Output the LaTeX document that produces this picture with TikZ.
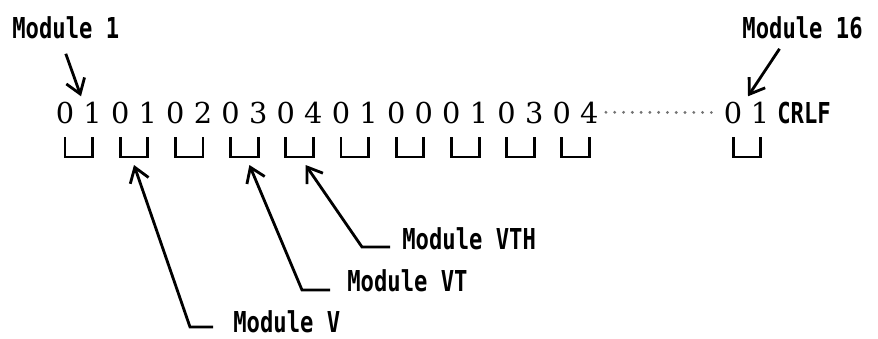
\documentclass[tikz,border=0pt]{standalone}
\usepackage{fontspec}
\usetikzlibrary{arrows.meta}
\newfontfamily\modfont[FakeStretch=0.77]{DejaVu Sans Mono}
\newfontfamily\digfont{DejaVu Serif}

\begin{document}
\begin{tikzpicture}[x=0.02cm,y=-0.02cm,
  digit/.style={inner sep=0pt,anchor=base,font=\digfont\fontsize{16.4}{18}\selectfont},
  modlabel/.style={inner sep=0pt,anchor=base west,font=\modfont\bfseries\fontsize{16.4}{18}\selectfont},
  pointer/.style={line width=1.6pt,-{Straight Barb[length=8pt,width=11pt,line width=1.6pt]}},
  slot/.style={line width=1.7pt},
  dotline/.style={line width=1.8pt,line cap=round,dash pattern=on 0pt off 5pt,black!55}]
  \useasboundingbox (0,0) rectangle (878,338);
  % the record
  \foreach \v [count=\i] in {0,1,0,1,0,2,0,3,0,4,0,1,0,0,0,1,0,3,0,4}
    \node[digit] (d\i) at ({65+27.6*(\i-1)},123) {\v};
  \node[digit] (d21) at (733,123) {0};
  \node[digit] (d22) at (760,123) {1};
  \node[modlabel] (crlf) at (777,123) {CRLF};
  \draw[dotline] ([xshift=4pt]d20.east) -- ([xshift=-4pt]d21.west);
  % one slot per module
  \foreach \l/\r [count=\k] in {1/2,3/4,5/6,7/8,9/10,11/12,13/14,15/16,17/18,19/20,21/22}
    \draw[slot] (d\l |- 0,137) -- (d\l |- 0,157) -- coordinate (b\k) (d\r |- 0,157) -- (d\r |- 0,137);
  % labels
  \node[modlabel] (m1) at (12,38) {Module 1};
  \node[modlabel,anchor=base east] (m16) at (863,38) {Module 16};
  \node[modlabel] (lV) at (233,332) {Module V};
  \node[modlabel] (lVT) at (347,291) {Module VT};
  \node[modlabel] (lVTH) at (402,249) {Module VTH};
  \draw[pointer] ([yshift=-0.3cm]m1.south) -- ([shift={(16,-5)}]d1.north);
  \draw[pointer] ([shift={(-23,10)}]m16.south) -- ([shift={(15,-5)}]d21.north);
  \draw[pointer] (lV.base west) ++(-20,-5) -- ++(-23,0) -- ([shift={(0,8)}]b2);
  \draw[pointer] (lVT.base west) ++(-17,-1) -- ++(-28,0) -- ([shift={(5,8)}]b4);
  \draw[pointer] (lVTH.base west) ++(-12,-2) -- ++(-28,0) -- ([shift={(6,8)}]b5);
\end{tikzpicture}
\end{document}
